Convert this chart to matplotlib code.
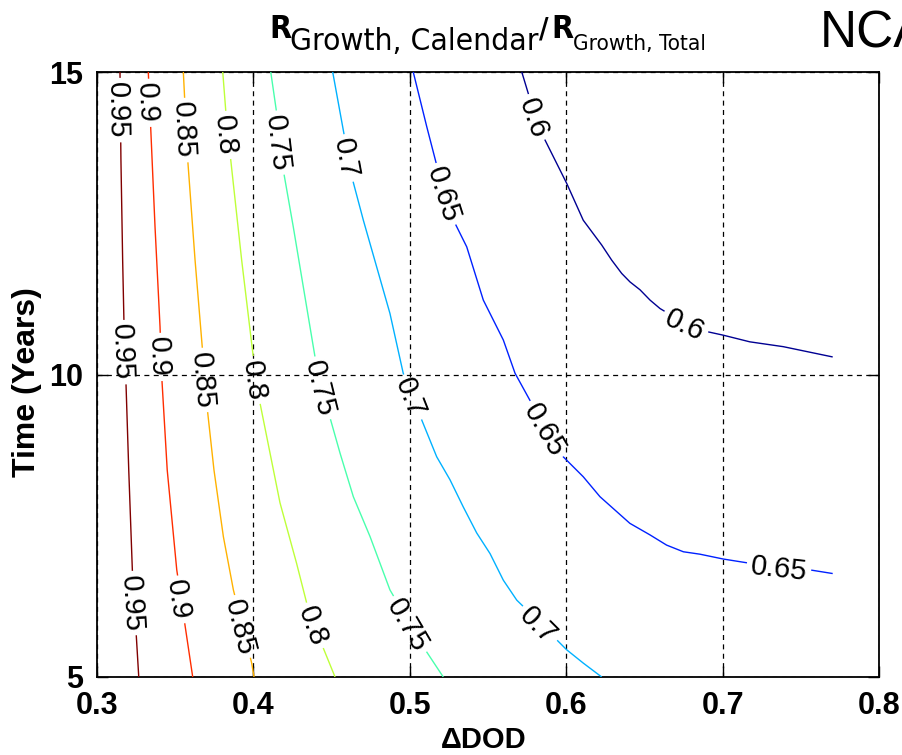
import numpy as np
import matplotlib
matplotlib.use("Agg")
import matplotlib.pyplot as plt
from matplotlib import font_manager
from matplotlib.font_manager import FontProperties
from matplotlib.colors import Normalize

# ---------------- data ----------------
levels = [0.6, 0.65, 0.7, 0.75, 0.8, 0.85, 0.9, 0.95]
level_text = ["0.6", "0.65", "0.7", "0.75", "0.8", "0.85", "0.9", "0.95"]

x_060 = [0.5716, 0.5764, 0.5854, 0.6003, 0.6109, 0.6227, 0.6291, 0.6355, 0.6408, 0.6472,
         0.6536, 0.6600, 0.6685, 0.6898, 0.7004, 0.7174, 0.7388, 0.7704]
y_060 = [15.0, 14.59, 13.93, 13.16, 12.55, 12.14, 11.89, 11.67, 11.53, 11.40,
         11.23, 11.09, 10.96, 10.71, 10.65, 10.54, 10.46, 10.29]

x_065 = [0.5022, 0.5108, 0.5182, 0.5289, 0.5364, 0.5470, 0.5598, 0.5673, 0.5790, 0.5981,
         0.6109, 0.6216, 0.6407, 0.6535, 0.6642, 0.6749, 0.6855, 0.7004, 0.7174, 0.7559, 0.7704]
y_065 = [15.0, 14.10, 13.36, 12.50, 12.11, 11.23, 10.57, 10.02, 9.47, 8.64,
         8.31, 7.98, 7.54, 7.35, 7.18, 7.07, 7.03, 6.95, 6.88, 6.77, 6.71]

x_070 = [0.4507, 0.4586, 0.4629, 0.4703, 0.4788, 0.4873, 0.4958, 0.5076, 0.5172, 0.5257,
         0.5342, 0.5428, 0.5513, 0.5598, 0.5684, 0.5748, 0.6003, 0.6109, 0.6227]
y_070 = [15.0, 13.88, 13.27, 12.55, 11.78, 11.01, 10.02, 9.25, 8.64, 8.26,
         7.81, 7.38, 7.04, 6.60, 6.27, 6.11, 5.45, 5.23, 5.0]

x_075 = [0.4111, 0.4149, 0.4191, 0.4255, 0.4319, 0.4394, 0.4473, 0.4554, 0.4639, 0.4746,
         0.4873, 0.5086, 0.5214]
y_075 = [15.0, 14.32, 13.38, 12.44, 11.45, 10.29, 9.44, 8.70, 7.98, 7.32,
         6.44, 5.50, 5.0]

x_080 = [0.3804, 0.3823, 0.3855, 0.3925, 0.3996, 0.4042, 0.4170, 0.4276, 0.4341, 0.4426, 0.4522]
y_080 = [15.0, 14.37, 13.55, 11.89, 10.36, 9.53, 7.88, 6.88, 6.22, 5.61, 5.0]

x_085 = [0.3552, 0.3580, 0.3627, 0.3676, 0.3701, 0.3748, 0.3808, 0.3872, 0.3989, 0.4004]
y_085 = [15.0, 13.55, 11.89, 10.36, 9.53, 8.42, 7.32, 6.44, 5.23, 5.0]

x_090 = [0.3328, 0.3343, 0.3371, 0.3403, 0.3414, 0.3449, 0.3510, 0.3612]
y_090 = [15.0, 14.10, 12.44, 10.79, 9.96, 8.42, 6.77, 5.0]

x_095 = [0.3147, 0.3153, 0.3164, 0.3173, 0.3184, 0.3203, 0.3226, 0.3267]
y_095 = [15.0, 13.55, 11.89, 10.79, 9.96, 8.42, 6.77, 5.0]

# approximate label spots (data coords) for each contour level
lab_060 = [(0.579, 14.24), (0.675, 10.77)]
lab_065 = [(0.515, 12.92), (0.584, 9.05), (0.736, 6.80)]
lab_070 = [(0.461, 13.58), (0.500, 9.61), (0.581, 5.83)]
lab_075 = [(0.416, 13.83), (0.446, 9.79), (0.497, 5.83)]
lab_080 = [(0.384, 13.96), (0.402, 9.91), (0.440, 5.86)]
lab_085 = [(0.357, 14.04), (0.369, 9.91), (0.392, 5.83)]
lab_090 = [(0.333, 14.49), (0.3405, 10.29), (0.3505, 6.27)]
lab_095 = [(0.316, 14.37), (0.3185, 10.37), (0.3226, 6.22)]

xs_all = [x_060, x_065, x_070, x_075, x_080, x_085, x_090, x_095]
ys_all = [y_060, y_065, y_070, y_075, y_080, y_085, y_090, y_095]
labs_all = [lab_060, lab_065, lab_070, lab_075, lab_080, lab_085, lab_090, lab_095]

x_ticks = [0.3, 0.4, 0.5, 0.6, 0.7, 0.8]
x_ticklabels = ["0.3", "0.4", "0.5", "0.6", "0.7", "0.8"]
y_ticks = [5, 10, 15]
y_ticklabels = ["5", "10", "15"]

# ---------------- fonts ----------------
ttf = font_manager.fontManager.ttflist
names = {f.name for f in ttf}
MAIN = "Liberation Sans" if "Liberation Sans" in names else "DejaVu Sans"
plt.rcParams["font.family"] = [MAIN, "DejaVu Sans"]


def is_bold(f):
    w = f.weight
    if isinstance(w, str):
        return "bold" in w.lower() or w.lower() in ("heavy", "black")
    return w >= 600


def find_narrow(bold):
    cands = []
    for f in ttf:
        nm = f.name.lower()
        narrow = ("narrow" in nm or "condensed" in nm or
                  str(f.stretch) in ("condensed", "semi-condensed", "extra-condensed") or
                  (isinstance(f.stretch, (int, float)) and f.stretch < 500))
        if narrow and f.style == "normal" and is_bold(f) == bold:
            rank = 0 if "liberation" in nm else (1 if "dejavu sans" in nm and "mono" not in nm else 2)
            if "mono" in nm or "serif" in nm:
                rank = 5
            cands.append((rank, f.fname))
    if cands:
        cands.sort()
        return FontProperties(fname=cands[0][1])
    return FontProperties(family=MAIN, weight="bold" if bold else "normal")


NARROW_REG = find_narrow(False)
NARROW_BOLD = find_narrow(True)

W, H = 902, 755
fig = plt.figure(figsize=(W / 100, H / 100), dpi=100)
ax = fig.add_axes([97 / W, 1 - 677 / H, 782 / W, 605 / H])
ax.set_xlim(0.3, 0.8)
ax.set_ylim(5, 15)

ax.set_xticks(x_ticks)
ax.set_xticklabels(x_ticklabels)
ax.set_yticks(y_ticks)
ax.set_yticklabels(y_ticklabels)
ax.tick_params(direction="in", length=8, width=1.0, top=True, right=True,
               labelsize=22, pad=10, colors="black")
for lab in ax.get_xticklabels() + ax.get_yticklabels():
    lab.set_fontweight("bold")
for sp in ax.spines.values():
    sp.set_linewidth(1.3)

ax.grid(True, color="black", linestyle=(0, (4, 3.5)), linewidth=0.9)
ax.set_axisbelow(True)

ax.set_xlabel("\u0394DOD", fontsize=21, fontweight="bold")
ax.xaxis.label.set_va("baseline")
ax.xaxis.set_label_coords(0.495, -0.117)
ax.set_ylabel("Time (Years)", fontsize=23, fontweight="bold")
ax.yaxis.label.set_va("baseline")
ax.yaxis.set_label_coords(-0.079, 0.487)

renderer = fig.canvas.get_renderer()
cmap = plt.get_cmap("jet")
norm = Normalize(vmin=0.594, vmax=0.95)
LFS = 21
PAD = 4.0


def point_at(pts, s, sv):
    return np.array([np.interp(sv, s, pts[:, 0]), np.interp(sv, s, pts[:, 1])])


for lev, txt, xs, ys, labs in zip(levels, level_text, xs_all, ys_all, labs_all):
    color = cmap(norm(lev))
    pts = ax.transData.transform(np.column_stack([xs, ys]))
    seg = np.diff(pts, axis=0)
    seglen = np.hypot(seg[:, 0], seg[:, 1])
    s = np.concatenate([[0.0], np.cumsum(seglen)])
    t = ax.text(0, 0, txt, fontsize=LFS)
    wtxt = t.get_window_extent(renderer).width
    t.remove()
    gaps = []
    for (lx, ly) in labs:
        p = ax.transData.transform((lx, ly))
        best = None
        for i in range(len(seg)):
            d = seg[i]
            L2 = d @ d
            u = np.clip(((p - pts[i]) @ d) / L2, 0, 1)
            q = pts[i] + u * d
            dist = np.hypot(*(p - q))
            if best is None or dist < best[0]:
                best = (dist, s[i] + u * seglen[i], q, d)
        _, sc, q, d = best
        # local direction averaged over the label length
        qa = point_at(pts, s, max(sc - wtxt / 2, 0))
        qb = point_at(pts, s, min(sc + wtxt / 2, s[-1]))
        dd = qb - qa
        ang = np.degrees(np.arctan2(dd[1], dd[0]))
        if ang > 90:
            ang -= 180
        if ang < -90:
            ang += 180
        xd, yd = ax.transData.inverted().transform(q)
        ax.text(xd, yd, txt, fontsize=LFS, rotation=ang, rotation_mode="anchor",
                ha="center", va="center_baseline", color="black", zorder=5)
        gaps.append((sc - wtxt / 2 - PAD, sc + wtxt / 2 + PAD))
    gaps.sort()
    pieces = []
    start = 0.0
    for a, b in gaps:
        pieces.append((start, a))
        start = b
    pieces.append((start, s[-1]))
    for a, b in pieces:
        a = max(a, 0.0)
        b = min(b, s[-1])
        if b <= a:
            continue
        inner = pts[(s > a) & (s < b)]
        seg_pts = np.vstack([point_at(pts, s, a), inner, point_at(pts, s, b)])
        dpts = ax.transData.inverted().transform(seg_pts)
        ax.plot(dpts[:, 0], dpts[:, 1], color=color, linewidth=1.0, zorder=4,
                solid_capstyle="butt")


# ---------------- title pieces ----------------
def fig_text_fit(x_px, base_px, text, target_w, fp, fs0=20):
    t = fig.text(x_px / W, 1 - base_px / H, text, fontproperties=fp,
                 ha="left", va="baseline")
    t.set_fontsize(fs0)
    w = t.get_window_extent(renderer).width
    t.set_fontsize(fs0 * target_w / w)
    return t


def fig_text_fixed(x_px, base_px, text, fs, fp):
    t = fig.text(x_px / W, 1 - base_px / H, text, fontproperties=fp,
                 ha="left", va="baseline")
    t.set_fontsize(fs)
    return t


fig_text_fixed(269, 38.5, "R", 23, NARROW_BOLD)
fig_text_fit(290, 50, "Growth, Calendar", 247, NARROW_REG)
fig_text_fixed(539, 37.5, "/", 21, NARROW_BOLD)
fig_text_fixed(551, 38.5, "R", 23, NARROW_BOLD)
fig_text_fit(573, 50, "Growth, Total", 132, NARROW_REG)

fig.text(820 / W, 1 - 47 / H, "NCA", fontsize=37, ha="left", va="baseline")

fig.savefig("out.png", dpi=100)
